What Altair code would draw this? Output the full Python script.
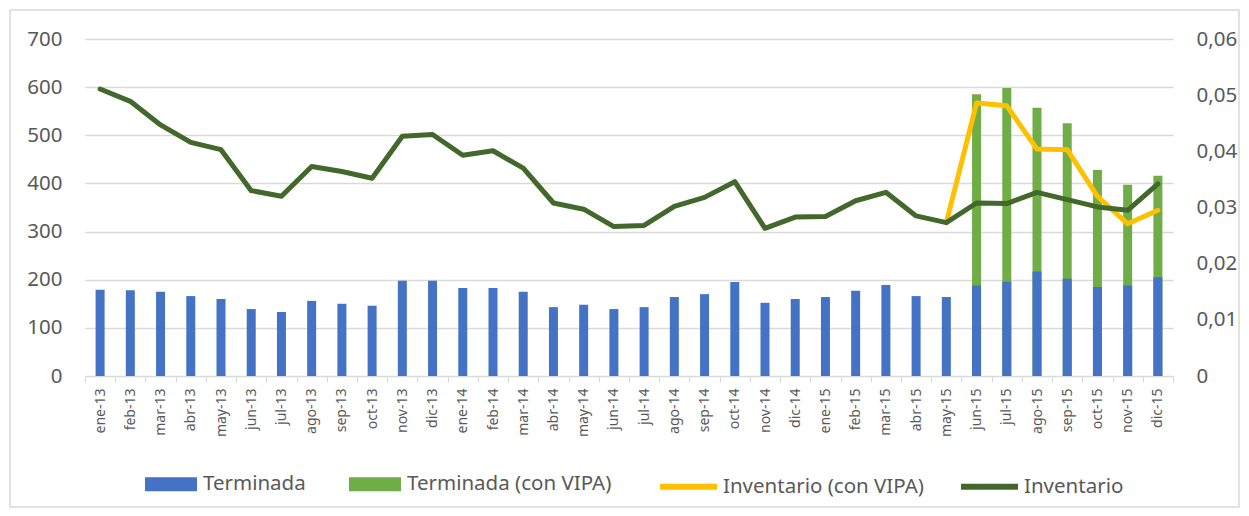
import altair as alt
import pandas as pd

months = ["ene-13","feb-13","mar-13","abr-13","may-13","jun-13","jul-13","ago-13","sep-13","oct-13","nov-13","dic-13",
          "ene-14","feb-14","mar-14","abr-14","may-14","jun-14","jul-14","ago-14","sep-14","oct-14","nov-14","dic-14",
          "ene-15","feb-15","mar-15","abr-15","may-15","jun-15","jul-15","ago-15","sep-15","oct-15","nov-15","dic-15"]

terminada = [179, 178, 175, 166, 160, 139, 133, 156, 150, 146, 198, 198,
             183, 183, 175, 143, 148, 139, 143, 164, 170, 195, 152, 160,
             164, 177, 189, 166, 164, 188, 196, 217, 202, 185, 188, 205]

terminada_vipa = [None]*29 + [585, 598, 557, 525, 428, 397, 416]

inventario = [0.0511, 0.0489, 0.0447, 0.0416, 0.0403, 0.0330, 0.0320, 0.0373, 0.0364, 0.0352, 0.0427, 0.0430,
              0.0393, 0.0401, 0.0370, 0.0308, 0.0297, 0.0266, 0.0268, 0.0302, 0.0318, 0.0346, 0.0263, 0.0283,
              0.0284, 0.0312, 0.0327, 0.0285, 0.0273, 0.0308, 0.0307, 0.0327, 0.0314, 0.0301, 0.0295, 0.0342]

inventario_vipa = [None]*28 + [0.0273, 0.0486, 0.0481, 0.0404, 0.0403, 0.0320, 0.0271, 0.0295]

bar_series = ["Terminada", "Terminada (con VIPA)"]
line_series = ["Inventario (con VIPA)", "Inventario"]

rows = []
for m, v in zip(months, terminada_vipa):
    if v is not None:
        rows.append({"mes": m, "serie": bar_series[1], "valor": v})
for m, v in zip(months, terminada):
    rows.append({"mes": m, "serie": bar_series[0], "valor": v})
bars_df = pd.DataFrame(rows)

inv_df = pd.DataFrame({"mes": months, "serie": line_series[1], "valor": inventario})
vipa_df = pd.DataFrame([{"mes": m, "serie": line_series[0], "valor": v}
                        for m, v in zip(months, inventario_vipa) if v is not None])

FONT = "Noto Sans"
GREY = "#595959"

x_axis = alt.Axis(labelAngle=270, labelFontSize=14, labelColor=GREY, labelFont=FONT,
                  domainColor="#d9d9d9", tickColor="#d9d9d9", tickSize=6,
                  tickBand="extent", labelPadding=6, grid=False)

x_enc = alt.X("mes:N", sort=months, title=None,
              scale=alt.Scale(paddingInner=0.0, paddingOuter=0.0), axis=x_axis)

bars = alt.Chart(bars_df).mark_bar(size=9).encode(
    x=x_enc,
    y=alt.Y("valor:Q", stack=None, title=None,
            scale=alt.Scale(domain=[0, 700], nice=False),
            axis=alt.Axis(values=[0, 100, 200, 300, 400, 500, 600, 700], orient="left",
                          ticks=False, domain=False, labelPadding=23, labelFontSize=20.5,
                          labelColor=GREY, labelFont=FONT, gridColor="#d9d9d9", gridWidth=1.5)),
    fill=alt.Fill("serie:N", scale=alt.Scale(domain=bar_series, range=["#4472C4", "#70AD47"]),
                  legend=alt.Legend(title=None, orient="none", direction="horizontal",
                                    legendX=60, legendY=419,
                                    symbolType="M-1,-0.27L1,-0.27L1,0.27L-1,0.27Z",
                                    symbolSize=2704, symbolStrokeWidth=0,
                                    labelFontSize=20.5, labelColor=GREY, labelFont=FONT,
                                    labelLimit=400, labelOffset=6, columnPadding=43)),
)

right_axis = alt.Axis(values=[0, 0.01, 0.02, 0.03, 0.04, 0.05, 0.06], orient="right",
                      ticks=False, domain=False, grid=False, labelPadding=23, labelFontSize=20.5,
                      labelColor=GREY, labelFont=FONT,
                      labelExpr="datum.value == 0 ? '0' : replace(format(datum.value, '.2f'), '.', ',')")

stroke_scale = alt.Scale(domain=line_series, range=["#FFC000", "#43682B"])
stroke_legend = alt.Legend(title=None, orient="none", direction="horizontal",
                           legendX=572, legendY=416, symbolType="stroke",
                           symbolSize=3249, symbolStrokeWidth=6,
                           labelFontSize=20.5, labelColor=GREY, labelFont=FONT,
                           labelLimit=400, labelOffset=3, columnPadding=25)

line_vipa = alt.Chart(vipa_df).mark_line(strokeWidth=5, strokeJoin="round", strokeCap="round").encode(
    x=alt.X("mes:N", sort=months, axis=x_axis),
    y=alt.Y("valor:Q", title=None, scale=alt.Scale(domain=[0, 0.06], nice=False), axis=right_axis),
    stroke=alt.Stroke("serie:N", scale=stroke_scale, legend=stroke_legend),
)
line_inv = alt.Chart(inv_df).mark_line(strokeWidth=5, strokeJoin="round", strokeCap="round").encode(
    x=alt.X("mes:N", sort=months, axis=x_axis),
    y=alt.Y("valor:Q", title=None, scale=alt.Scale(domain=[0, 0.06], nice=False), axis=right_axis),
    stroke=alt.Stroke("serie:N", scale=stroke_scale, legend=stroke_legend),
)

lines = alt.layer(line_vipa, line_inv)

frame = alt.Chart(alt.Data(values=[{"a": 1}])).mark_rect(fill=None, stroke="#d9d9d9", strokeWidth=1.5).encode(
    x=alt.value(-75), x2=alt.value(1154), y=alt.value(-29), y2=alt.value(468)
)

chart = alt.layer(bars, lines, frame).resolve_scale(y="independent").properties(
    width=1088, height=337,
    view=alt.ViewBackground(stroke="transparent", strokeWidth=0),
    autosize=alt.AutoSizeParams(type="none"),
    padding={"left": 77, "top": 31, "right": 68, "bottom": 132},
).configure_view(stroke="transparent", strokeWidth=0).configure_axisY(
    domain=False, ticks=False
).configure_axisX(grid=False).configure(background="white")

chart.save("out.html", embed_options={"renderer": "svg", "actions": False})
